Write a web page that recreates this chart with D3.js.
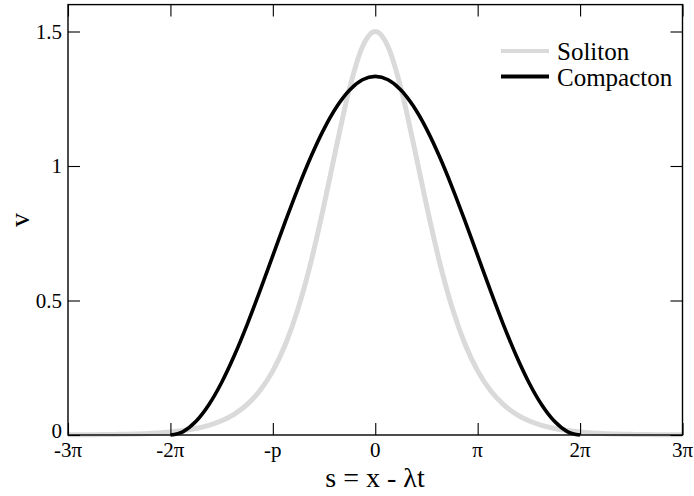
<!DOCTYPE html>
<html>
<head>
<meta charset="utf-8">
<script src="https://cdn.jsdelivr.net/npm/d3@7"></script>
<style>
  html, body { margin: 0; padding: 0; background: #fff; }
  svg { display: block; }
</style>
</head>
<body>
<svg id="chart" width="694" height="496"></svg>
<script>
// s in units of π, from -3π to 3π, step π/8
const sOverPi = [
  -3, -2.875, -2.75, -2.625, -2.5, -2.375, -2.25, -2.125,
  -2, -1.875, -1.75, -1.625, -1.5, -1.375, -1.25, -1.125,
  -1, -0.875, -0.75, -0.625, -0.5, -0.375, -0.25, -0.125,
  0, 0.125, 0.25, 0.375, 0.5, 0.625, 0.75, 0.875,
  1, 1.125, 1.25, 1.375, 1.5, 1.625, 1.75, 1.875,
  2, 2.125, 2.25, 2.375, 2.5, 2.625, 2.75, 2.875, 3
];

// Soliton profile v(s)
const solitonV = [
  0.00048, 0.00072, 0.00106, 0.00157, 0.00233, 0.00345, 0.00510, 0.00755,
  0.01116, 0.01650, 0.02437, 0.03596, 0.05294, 0.07774, 0.11369, 0.16529,
  0.23825, 0.33919, 0.47448, 0.64763, 0.85490, 1.07990, 1.29054, 1.44362,
  1.5, 1.44362, 1.29054, 1.07990, 0.85490, 0.64763, 0.47448, 0.33919,
  0.23825, 0.16529, 0.11369, 0.07774, 0.05294, 0.03596, 0.02437, 0.01650,
  0.01116, 0.00755, 0.00510, 0.00345, 0.00233, 0.00157, 0.00106, 0.00072, 0.00048
];

// Compacton profile v(s), supported on [-2π, 2π]
const compactonS = [
  -2, -1.875, -1.75, -1.625, -1.5, -1.375, -1.25, -1.125,
  -1, -0.875, -0.75, -0.625, -0.5, -0.375, -0.25, -0.125,
  0, 0.125, 0.25, 0.375, 0.5, 0.625, 0.75, 0.875,
  1, 1.125, 1.25, 1.375, 1.5, 1.625, 1.75, 1.875, 2
];
const compactonV = [
  0, 0.01281, 0.05075, 0.11235, 0.19526, 0.29629, 0.41154, 0.53661,
  0.66667, 0.79673, 0.92179, 1.03705, 1.13807, 1.22098, 1.28259, 1.32052,
  1.33333, 1.32052, 1.28259, 1.22098, 1.13807, 1.03705, 0.92179, 0.79673,
  0.66667, 0.53661, 0.41154, 0.29629, 0.19526, 0.11235, 0.05075, 0.01281, 0
];

const xTickValues = [-3, -2, -1, 0, 1, 2, 3];
const xTickLabels = ["-3π", "-2π", "-p", "0", "π", "2π", "3π"];
const yTickValues = [0, 0.5, 1, 1.5];
const yTickLabels = ["0", "0.5", "1", "1.5"];

const seriesNames = ["Soliton", "Compacton"];
const seriesColors = ["#dadada", "#000000"];
const seriesWidths = [5, 3.6];

const serif = "'Liberation Serif', 'DejaVu Serif', serif";

const svg = d3.select("#chart");
const plotLeft = 68, plotRight = 682.5, plotTop = 4.6, plotBottom = 435;

const x = d3.scaleLinear().domain([-3, 3]).range([plotLeft, plotRight]);
const y = d3.scaleLinear().domain([0, 1.6]).range([plotBottom, plotTop]);

const tickLen = 12;

// curves
const line = d3.line()
  .x(d => x(d[0]))
  .y(d => y(d[1]))
  .curve(d3.curveMonotoneX);

const plot = svg.append("g");
plot.append("path")
  .datum(sOverPi.map((s, i) => [s, solitonV[i]]))
  .attr("d", line)
  .attr("fill", "none")
  .attr("stroke", seriesColors[0])
  .attr("stroke-width", seriesWidths[0])
  .attr("stroke-linejoin", "round");

plot.append("path")
  .datum(compactonS.map((s, i) => [s, compactonV[i]]))
  .attr("d", line)
  .attr("fill", "none")
  .attr("stroke", seriesColors[1])
  .attr("stroke-width", seriesWidths[1])
  .attr("stroke-linejoin", "round");

// axes with inward ticks on all four sides
const fmtX = (d, i) => xTickLabels[i];
const fmtY = (d, i) => yTickLabels[i];

const axB = svg.append("g").attr("transform", `translate(0,${plotBottom})`)
  .call(d3.axisTop(x).tickValues(xTickValues).tickSize(tickLen).tickFormat(""));
const axT = svg.append("g").attr("transform", `translate(0,${plotTop})`)
  .call(d3.axisBottom(x).tickValues(xTickValues).tickSize(tickLen).tickFormat(""));
const axL = svg.append("g").attr("transform", `translate(${plotLeft},0)`)
  .call(d3.axisRight(y).tickValues(yTickValues).tickSize(tickLen).tickFormat(""));
const axR = svg.append("g").attr("transform", `translate(${plotRight},0)`)
  .call(d3.axisLeft(y).tickValues(yTickValues).tickSize(tickLen).tickFormat(""));

[axB, axT, axL, axR].forEach(g => {
  g.select(".domain").remove();
  g.selectAll(".tick line").attr("stroke", "#000").attr("stroke-width", 1.1);
});

// frame
svg.append("rect")
  .attr("x", plotLeft).attr("y", plotTop)
  .attr("width", plotRight - plotLeft).attr("height", plotBottom - plotTop)
  .attr("fill", "none").attr("stroke", "#000").attr("stroke-width", 1.4);

// tick labels
svg.append("g").selectAll("text")
  .data(xTickValues)
  .join("text")
  .attr("x", d => x(d))
  .attr("y", 457)
  .attr("text-anchor", "middle")
  .attr("font-family", serif)
  .attr("font-size", 21)
  .text(fmtX);

svg.append("g").selectAll("text")
  .data(yTickValues)
  .join("text")
  .attr("x", 62)
  .attr("y", d => d === 0 ? y(d) + 3 : y(d) + 7)
  .attr("text-anchor", "end")
  .attr("font-family", serif)
  .attr("font-size", 21)
  .text(fmtY);

// axis titles
svg.append("text")
  .attr("x", 375).attr("y", 487)
  .attr("text-anchor", "middle")
  .attr("font-family", serif)
  .attr("font-size", 28)
  .text("s = x - λt");

svg.append("text")
  .attr("transform", "translate(29,220) rotate(-90)")
  .attr("text-anchor", "middle")
  .attr("font-family", serif)
  .attr("font-size", 28)
  .text("v");

// legend
const legend = svg.append("g");
const legendY = [51, 76.5];
seriesNames.forEach((name, i) => {
  legend.append("line")
    .attr("x1", 501).attr("x2", 549)
    .attr("y1", legendY[i]).attr("y2", legendY[i])
    .attr("stroke", seriesColors[i])
    .attr("stroke-width", 4);
  legend.append("text")
    .attr("x", 557).attr("y", legendY[i] + 9)
    .attr("font-family", serif)
    .attr("font-size", 25)
    .text(name);
});
</script>
</body>
</html>
